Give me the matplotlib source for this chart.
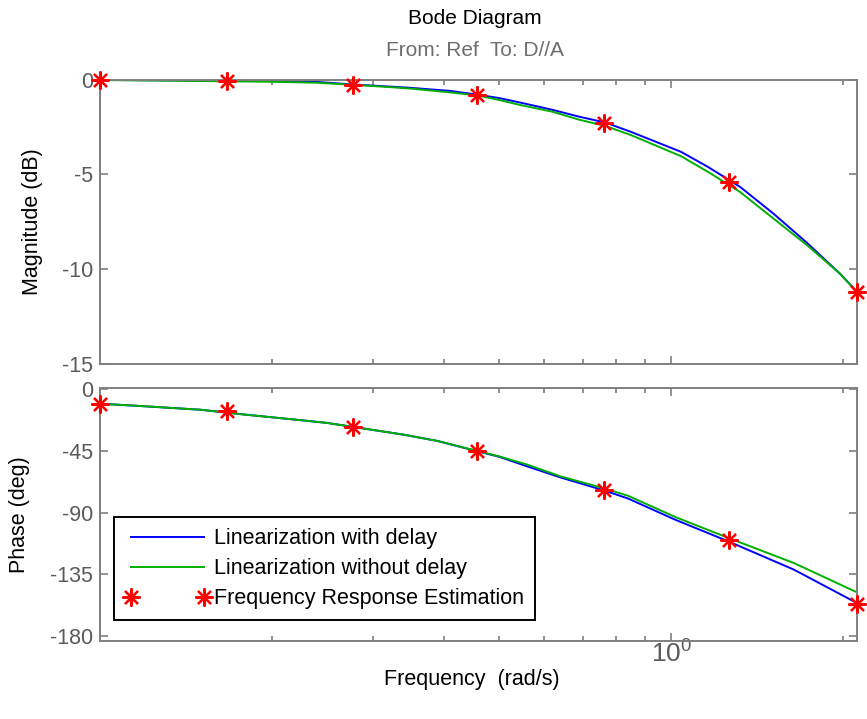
import matplotlib
matplotlib.use("Agg")
import matplotlib.pyplot as plt
from matplotlib.ticker import LogLocator, NullFormatter, FixedLocator, FixedFormatter

plt.rcParams['font.family'] = ['Liberation Sans', 'DejaVu Sans']
plt.rcParams['mathtext.fontset'] = 'custom'
plt.rcParams['mathtext.rm'] = 'Liberation Sans'
plt.rcParams['mathtext.it'] = 'Liberation Sans'
plt.rcParams['axes.unicode_minus'] = False

# ---- data ----
freq_mag = [0.1, 0.14, 0.2, 0.24, 0.277, 0.325, 0.35, 0.41, 0.458, 0.5, 0.545,
            0.62, 0.69, 0.767, 0.85, 1.04, 1.16, 1.32, 1.51, 1.73, 1.975, 2.115]
mag_with_delay = [-0.02, -0.05, -0.08, -0.13, -0.26, -0.38, -0.44, -0.6, -0.8, -0.98, -1.22,
                  -1.6, -1.96, -2.27, -2.76, -3.81, -4.61, -5.66, -7.07, -8.62, -10.24, -11.2]
mag_without_delay = [-0.03, -0.07, -0.12, -0.17, -0.28, -0.41, -0.48, -0.68, -0.84, -1.08, -1.35,
                     -1.7, -2.12, -2.45, -2.93, -4.04, -4.87, -5.93, -7.33, -8.74, -10.24, -11.2]

freq_ph = [0.1, 0.12, 0.15, 0.18, 0.22, 0.25, 0.29, 0.34, 0.39, 0.458, 0.5,
           0.56, 0.64, 0.764, 0.84, 1.02, 1.26, 1.64, 2.115]
ph_with_delay = [-10.9, -12.8, -15.3, -18.9, -22.5, -24.9, -29.0, -33.4, -38.0, -45.5, -49.5,
                 -56.5, -64.5, -74.0, -79.8, -95.5, -111.0, -131.5, -155.8]
ph_without_delay = [-10.9, -12.8, -15.3, -18.9, -22.5, -24.9, -29.0, -33.4, -38.0, -45.3, -49.2,
                    -55.2, -63.7, -72.5, -77.8, -93.5, -108.5, -126.7, -148.0]

freq_est = [0.1, 0.167, 0.277, 0.458, 0.764, 1.263, 2.115]
mag_est = [0.0, -0.07, -0.3, -0.8, -2.27, -5.4, -11.2]
ph_est = [-10.9, -16.5, -28.1, -45.5, -73.4, -109.7, -156.2]

mag_ticks = [0, -5, -10, -15]
ph_ticks = [0, -45, -90, -135, -180]
freq_major_ticks = [1.0]
freq_major_labels = ['$10^0$']

labels = ['Linearization with delay', 'Linearization without delay',
          'Frequency Response Estimation']

BLUE = '#0000ff'
GREEN = '#00b000'
RED = '#ff0000'
SPINE = '#7f7f7f'
TICKC = '#5a5a5a'
ASTER = (8, 2, 0)
FS = 15.5

fig = plt.figure(figsize=(8.67, 7.19), dpi=100)
W, H = 867, 719
L, R = 100, 857
ax1 = fig.add_axes([L / W, 1 - 364 / H, (R - L) / W, (364 - 79.5) / H])
ax2 = fig.add_axes([L / W, 1 - 640.5 / H, (R - L) / W, (640.5 - 388) / H])

for ax in (ax1, ax2):
    ax.set_xscale('log')
    ax.set_xlim(0.1, 2.115)
    ax.xaxis.set_major_locator(FixedLocator(freq_major_ticks))
    ax.xaxis.set_minor_locator(LogLocator(base=10, subs=range(2, 10), numticks=20))
    ax.xaxis.set_minor_formatter(NullFormatter())
    for s in ax.spines.values():
        s.set_color(SPINE)
        s.set_linewidth(1.4)
    ax.tick_params(which='both', direction='in', top=True, right=True,
                   color=SPINE, labelcolor=TICKC, labelsize=FS, width=1.2)
    ax.tick_params(which='major', length=6, pad=5)
    ax.tick_params(which='minor', length=3.5)

ax1.xaxis.set_major_formatter(NullFormatter())
ax2.xaxis.set_major_formatter(FixedFormatter(freq_major_labels))
ax2.tick_params(axis='x', which='major', labelsize=19, pad=0)

ax1.plot(freq_mag, mag_with_delay, color=BLUE, lw=1.4, zorder=2)
ax1.plot(freq_mag, mag_without_delay, color=GREEN, lw=1.4, zorder=2)
ax1.plot(freq_est, mag_est, linestyle='none', marker=ASTER, ms=13, mew=1.6,
         color=RED, clip_on=False, zorder=4)
ax1.set_ylim(-15, 0)
ax1.set_yticks(mag_ticks)
ax1.set_ylabel('Magnitude (dB)', fontsize=FS, color='black')
ax1.yaxis.set_label_coords(-0.075, 0.5)

h1, = ax2.plot(freq_ph, ph_with_delay, color=BLUE, lw=1.4, zorder=2)
h2, = ax2.plot(freq_ph, ph_without_delay, color=GREEN, lw=1.4, zorder=2)
h3, = ax2.plot(freq_est, ph_est, linestyle='none', marker=ASTER, ms=13, mew=1.6,
               color=RED, clip_on=False, zorder=4)
ax2.set_ylim(-183, 0.5)
ax2.set_yticks(ph_ticks)
ax2.set_ylabel('Phase (deg)', fontsize=FS, color='black')
ax2.yaxis.set_label_coords(-0.092, 0.5)

leg = ax2.legend([h1, h2, h3], labels, loc='lower left',
                 bbox_to_anchor=(0.0185, 0.081), borderaxespad=0, fontsize=FS,
                 numpoints=2, handlelength=4.0, handletextpad=0.15, labelspacing=0.42,
                 fancybox=False, framealpha=1, edgecolor='black', borderpad=0.5)
leg.get_frame().set_linewidth(1.4)

fig.text(475 / W, 1 - 18 / H, 'Bode Diagram', ha='center', va='center', fontsize=15, color='black')
fig.text(475 / W, 1 - 50 / H, 'From: Ref  To: D//A', ha='center', va='center', fontsize=15, color='#6e6e6e')
fig.text(472 / W, 1 - 680 / H, 'Frequency  (rad/s)', ha='center', va='center', fontsize=FS, color='black')

fig.savefig('out.png', dpi=100)
